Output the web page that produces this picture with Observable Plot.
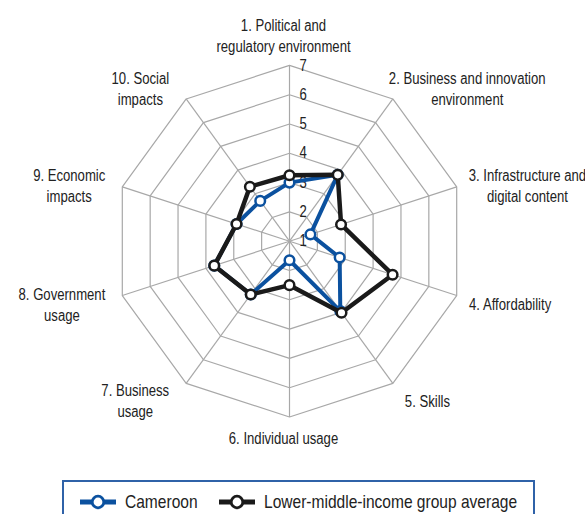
<!DOCTYPE html>
<html>
<head>
<meta charset="utf-8">
<script src="https://cdn.jsdelivr.net/npm/d3@7"></script>
<script src="https://cdn.jsdelivr.net/npm/@observablehq/plot@0.6"></script>
<style>
  html, body { margin: 0; padding: 0; background: #fff; }
  body { width: 585px; height: 514px; overflow: hidden; font-family: "Liberation Sans", Arial, sans-serif; }
  #chart svg { display: block; }
  #legend {
    position: relative;
    margin: 2px 0 0 62px; width: 469px; height: 60px;
    border: 2px solid #2f62a8; box-sizing: content-box;
    font-size: 18.5px; color: #222;
  }
  #legend .sym { position: absolute; top: 12px; }
  #legend .lab { position: absolute; top: 10px; line-height: 20px; white-space: nowrap;
                 transform: scaleX(0.84); transform-origin: 0 50%; }
</style>
</head>
<body>
<div id="chart"></div>
<div id="legend"></div>
<script>
const categories = [
  "1. Political and\nregulatory environment",
  "2. Business and innovation\nenvironment",
  "3. Infrastructure and\ndigital content",
  "4. Affordability",
  "5. Skills",
  "6. Individual usage",
  "7. Business\nusage",
  "8. Government\nusage",
  "9. Economic\nimpacts",
  "10. Social\nimpacts"
];
const cameroon   = [3.0, 3.8, 1.75, 2.8, 3.95, 1.65, 3.25, 3.7, 2.9, 2.7];
const lmiAverage = [3.25, 3.8, 2.85, 4.7, 4.02, 2.5, 3.25, 3.7, 2.9, 3.3];
const seriesNames = ["Cameroon", "Lower-middle-income group average"];
const tickValues = [1, 2, 3, 4, 5, 6, 7];

const BLUE = "#0b519f", BLACK = "#1a1a1a", GRID = "#a8a8a8";
const FONT = "'Liberation Sans', Arial, sans-serif";
const SX = 0.82; // horizontal condensing of text
const W = 585, H = 478, CX = 289, CY = 240.7, U = 29.3;
const vMin = 1, vMax = 7;
const n = categories.length;
const ang = i => i * 2 * Math.PI / n;
const pt = (v, i) => ({x: (v - vMin) * Math.sin(ang(i)), y: (v - vMin) * Math.cos(ang(i))});

// grid rings
const rings = [];
tickValues.filter(t => t > vMin).forEach(t => {
  for (let i = 0; i <= n; i++) rings.push({ring: t, ...pt(t, i % n)});
});
const spokes = categories.map((c, i) => ({x1: 0, y1: 0, x2: pt(vMax, i).x, y2: pt(vMax, i).y}));

function seriesPts(vals) {
  const a = vals.map((v, i) => pt(v, i));
  return {line: [...a, a[0]], dots: a};
}
const cam = seriesPts(cameroon), lmi = seriesPts(lmiAverage);

// axis labels, placed just outside the outer ring
const LFS = 16, LLH = 1.31;
const ctx = document.createElement("canvas").getContext("2d");
ctx.font = `${LFS}px ${FONT}`;
const labels = categories.map((c, i) => {
  const lines = c.split("\n");
  const w = Math.max(...lines.map(l => ctx.measureText(l).width)) * SX;
  const h = lines.length * LFS * LLH;
  const s = Math.sin(ang(i)), co = Math.cos(ang(i));
  const vpx = CX + (vMax - vMin) * U * s, vpy = CY - (vMax - vMin) * U * co;
  let px, py;
  if (Math.abs(s) < 0.01) { px = vpx - 6; py = vpy - Math.sign(co) * (10 + h / 2); }
  else {
    const gap = s > 0 ? (co > 0.5 ? -4 : 12) : 17;
    px = vpx + Math.sign(s) * (gap + w / 2);
    py = vpy - co * 17 + 3;
  }
  return {text: c, x: (px - CX) / U, y: (CY - py) / U};
});

const ticks = tickValues.map(t => ({t, x: 0, y: t - vMin}));

const chart = Plot.plot({
  width: W, height: H,
  marginTop: 0, marginRight: 0, marginBottom: 0, marginLeft: 0,
  x: {domain: [-CX / U, (W - CX) / U], axis: null},
  y: {domain: [-(H - CY) / U, CY / U], axis: null},
  style: {fontFamily: FONT, background: "#fff"},
  marks: [
    Plot.line(rings, {x: "x", y: "y", z: "ring", stroke: GRID, strokeWidth: 1.2}),
    Plot.link(spokes, {x1: "x1", y1: "y1", x2: "x2", y2: "y2", stroke: GRID, strokeWidth: 1.2}),
    Plot.text(ticks, {x: "x", y: "y", text: "t", textAnchor: "start", dx: 10, dy: 0, fontSize: 16, fill: "#222"}),
    Plot.text(labels, {x: "x", y: "y", text: "text", textAnchor: "middle", lineAnchor: "middle", lineHeight: LLH, fontSize: LFS, fill: "#222"}),
    Plot.line(cam.line, {x: "x", y: "y", stroke: BLUE, strokeWidth: 4, curve: "linear"}),
    Plot.dot(cam.dots, {x: "x", y: "y", r: 4.8, fill: "#fff", stroke: BLUE, strokeWidth: 2.5}),
    Plot.line(lmi.line, {x: "x", y: "y", stroke: BLACK, strokeWidth: 4.5, curve: "linear"}),
    Plot.dot(lmi.dots, {x: "x", y: "y", r: 4.8, fill: "#fff", stroke: BLACK, strokeWidth: 2.5})
  ]
});
// condense the text horizontally (no narrow font installed)
chart.querySelectorAll("text").forEach(el => {
  const tr = el.getAttribute("transform");
  if (tr) el.setAttribute("transform", tr + ` scale(${SX},1)`);
  else {
    const x = +(el.getAttribute("x") || 0), y = +(el.getAttribute("y") || 0);
    el.removeAttribute("x"); el.removeAttribute("y");
    el.setAttribute("transform", `translate(${x},${y}) scale(${SX},1)`);
  }
});
document.getElementById("chart").appendChild(chart);

// legend
const legend = document.getElementById("legend");
[[seriesNames[0], BLUE, 16, 61], [seriesNames[1], BLACK, 155, 200]].forEach(([name, col, sx, tx]) => {
  legend.insertAdjacentHTML("beforeend",
    `<svg class="sym" style="left:${sx}px" width="36" height="16"><line x1="0" x2="36" y1="8" y2="8" stroke="${col}" stroke-width="5"/><circle cx="18" cy="8" r="5.8" fill="#fff" stroke="${col}" stroke-width="2.8"/></svg><span class="lab" style="left:${tx}px">${name}</span>`);
});
</script>
</body>
</html>
